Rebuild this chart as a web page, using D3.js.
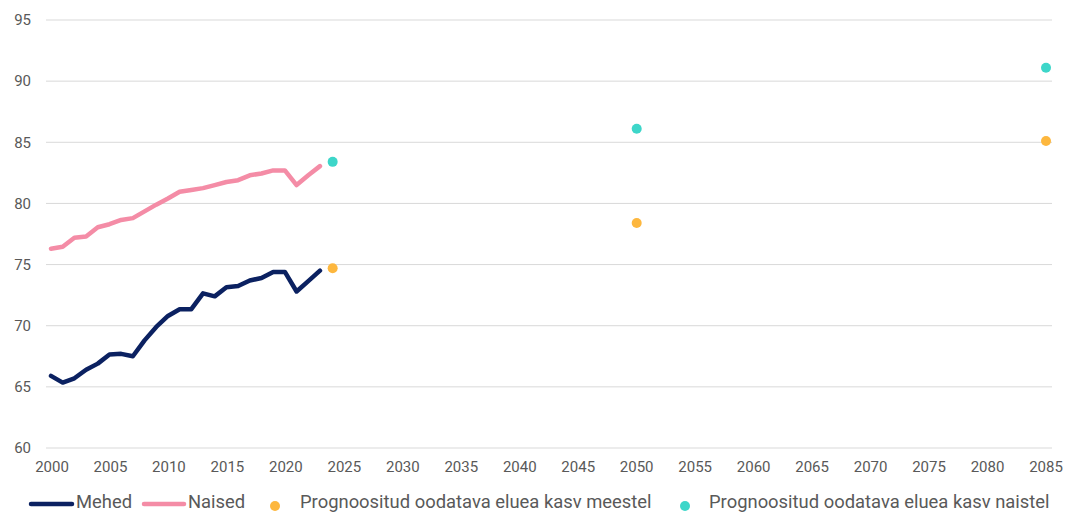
<!DOCTYPE html>
<html>
<head>
<meta charset="utf-8">
<script src="https://cdn.jsdelivr.net/npm/d3@7"></script>
<style>
  body { margin: 0; background: #fff; }
  text { font-family: Roboto, "Noto Sans", sans-serif; }
</style>
</head>
<body>
<div id="chart"></div>
<script>
// actual values 2000-2023
const years = d3.range(2000, 2024);
const mehed = [65.9, 65.35, 65.7, 66.4, 66.9, 67.65, 67.7, 67.5, 68.8, 69.9, 70.8, 71.35, 71.35,
               72.65, 72.4, 73.15, 73.25, 73.7, 73.9, 74.4, 74.4, 72.8, 73.65, 74.5];
const naised = [76.3, 76.45, 77.2, 77.3, 78.05, 78.3, 78.65, 78.8, 79.35, 79.9, 80.4, 80.95, 81.1,
                81.25, 81.5, 81.75, 81.9, 82.3, 82.45, 82.7, 82.7, 81.5, 82.3, 83.05];

// forecast points
const progYears = [2024, 2050, 2085];
const progMeestel = [74.7, 78.4, 85.1];
const progNaistel = [83.4, 86.1, 91.1];

const yTicks = [60, 65, 70, 75, 80, 85, 90, 95];
const xTicks = d3.range(2000, 2086, 5);

const width = 1065, height = 513;

const x = d3.scaleLinear().domain([2000, 2085]).range([51, 1045]);
const y = d3.scaleLinear().domain([60, 95]).range([448, 20]);

const svg = d3.select("#chart").append("svg")
    .attr("width", width)
    .attr("height", height);

// gridlines
svg.append("g")
    .selectAll("line")
    .data(yTicks)
    .enter().append("line")
    .attr("x1", 46)
    .attr("x2", 1052)
    .attr("y1", d => y(d))
    .attr("y2", d => y(d))
    .attr("stroke", "#d9d9d9")
    .attr("stroke-width", 1);

// y labels
svg.append("g")
    .selectAll("text")
    .data(yTicks)
    .enter().append("text")
    .attr("x", 31)
    .attr("y", d => y(d))
    .attr("dy", "0.35em")
    .attr("text-anchor", "end")
    .attr("font-size", 15)
    .attr("fill", "#595959")
    .text(d => d);

// x labels
svg.append("g")
    .selectAll("text")
    .data(xTicks)
    .enter().append("text")
    .attr("x", d => x(d) + 1)
    .attr("y", 472)
    .attr("text-anchor", "middle")
    .attr("font-size", 15)
    .attr("fill", "#595959")
    .text(d => d);

const line = d3.line()
    .x((d, i) => x(years[i]))
    .y(d => y(d));

svg.append("path")
    .datum(naised)
    .attr("d", line)
    .attr("fill", "none")
    .attr("stroke", "#f48ca6")
    .attr("stroke-width", 4.5)
    .attr("stroke-linejoin", "round")
    .attr("stroke-linecap", "round");

svg.append("path")
    .datum(mehed)
    .attr("d", line)
    .attr("fill", "none")
    .attr("stroke", "#0b2161")
    .attr("stroke-width", 4.5)
    .attr("stroke-linejoin", "round")
    .attr("stroke-linecap", "round");

svg.append("g")
    .selectAll("circle")
    .data(progMeestel)
    .enter().append("circle")
    .attr("cx", (d, i) => x(progYears[i]) + 1)
    .attr("cy", d => y(d))
    .attr("r", 5)
    .attr("fill", "#fdb73e");

svg.append("g")
    .selectAll("circle")
    .data(progNaistel)
    .enter().append("circle")
    .attr("cx", (d, i) => x(progYears[i]) + 1)
    .attr("cy", d => y(d))
    .attr("r", 5)
    .attr("fill", "#3dd6c9");

// legend (kept just inside the bottom edge)
const legend = svg.append("g");
const ly = 504;
const fs = 18.4;

legend.append("line").attr("x1", 31).attr("x2", 72).attr("y1", ly).attr("y2", ly)
    .attr("stroke", "#0b2161").attr("stroke-width", 4.5).attr("stroke-linecap", "round");
legend.append("text").attr("x", 76).attr("y", 508)
    .attr("font-size", fs).attr("fill", "#595959").text("Mehed");

legend.append("line").attr("x1", 144).attr("x2", 184).attr("y1", ly).attr("y2", ly)
    .attr("stroke", "#f48ca6").attr("stroke-width", 4.5).attr("stroke-linecap", "round");
legend.append("text").attr("x", 188).attr("y", 508)
    .attr("font-size", fs).attr("fill", "#595959").text("Naised");

legend.append("circle").attr("cx", 275).attr("cy", ly + 2).attr("r", 5).attr("fill", "#fdb73e");
legend.append("text").attr("x", 300).attr("y", 508)
    .attr("font-size", fs).attr("fill", "#595959").text("Prognoositud oodatava eluea kasv meestel");

legend.append("circle").attr("cx", 685).attr("cy", ly + 2).attr("r", 5).attr("fill", "#3dd6c9");
legend.append("text").attr("x", 709).attr("y", 508)
    .attr("font-size", fs).attr("fill", "#595959").text("Prognoositud oodatava eluea kasv naistel");
</script>
</body>
</html>
